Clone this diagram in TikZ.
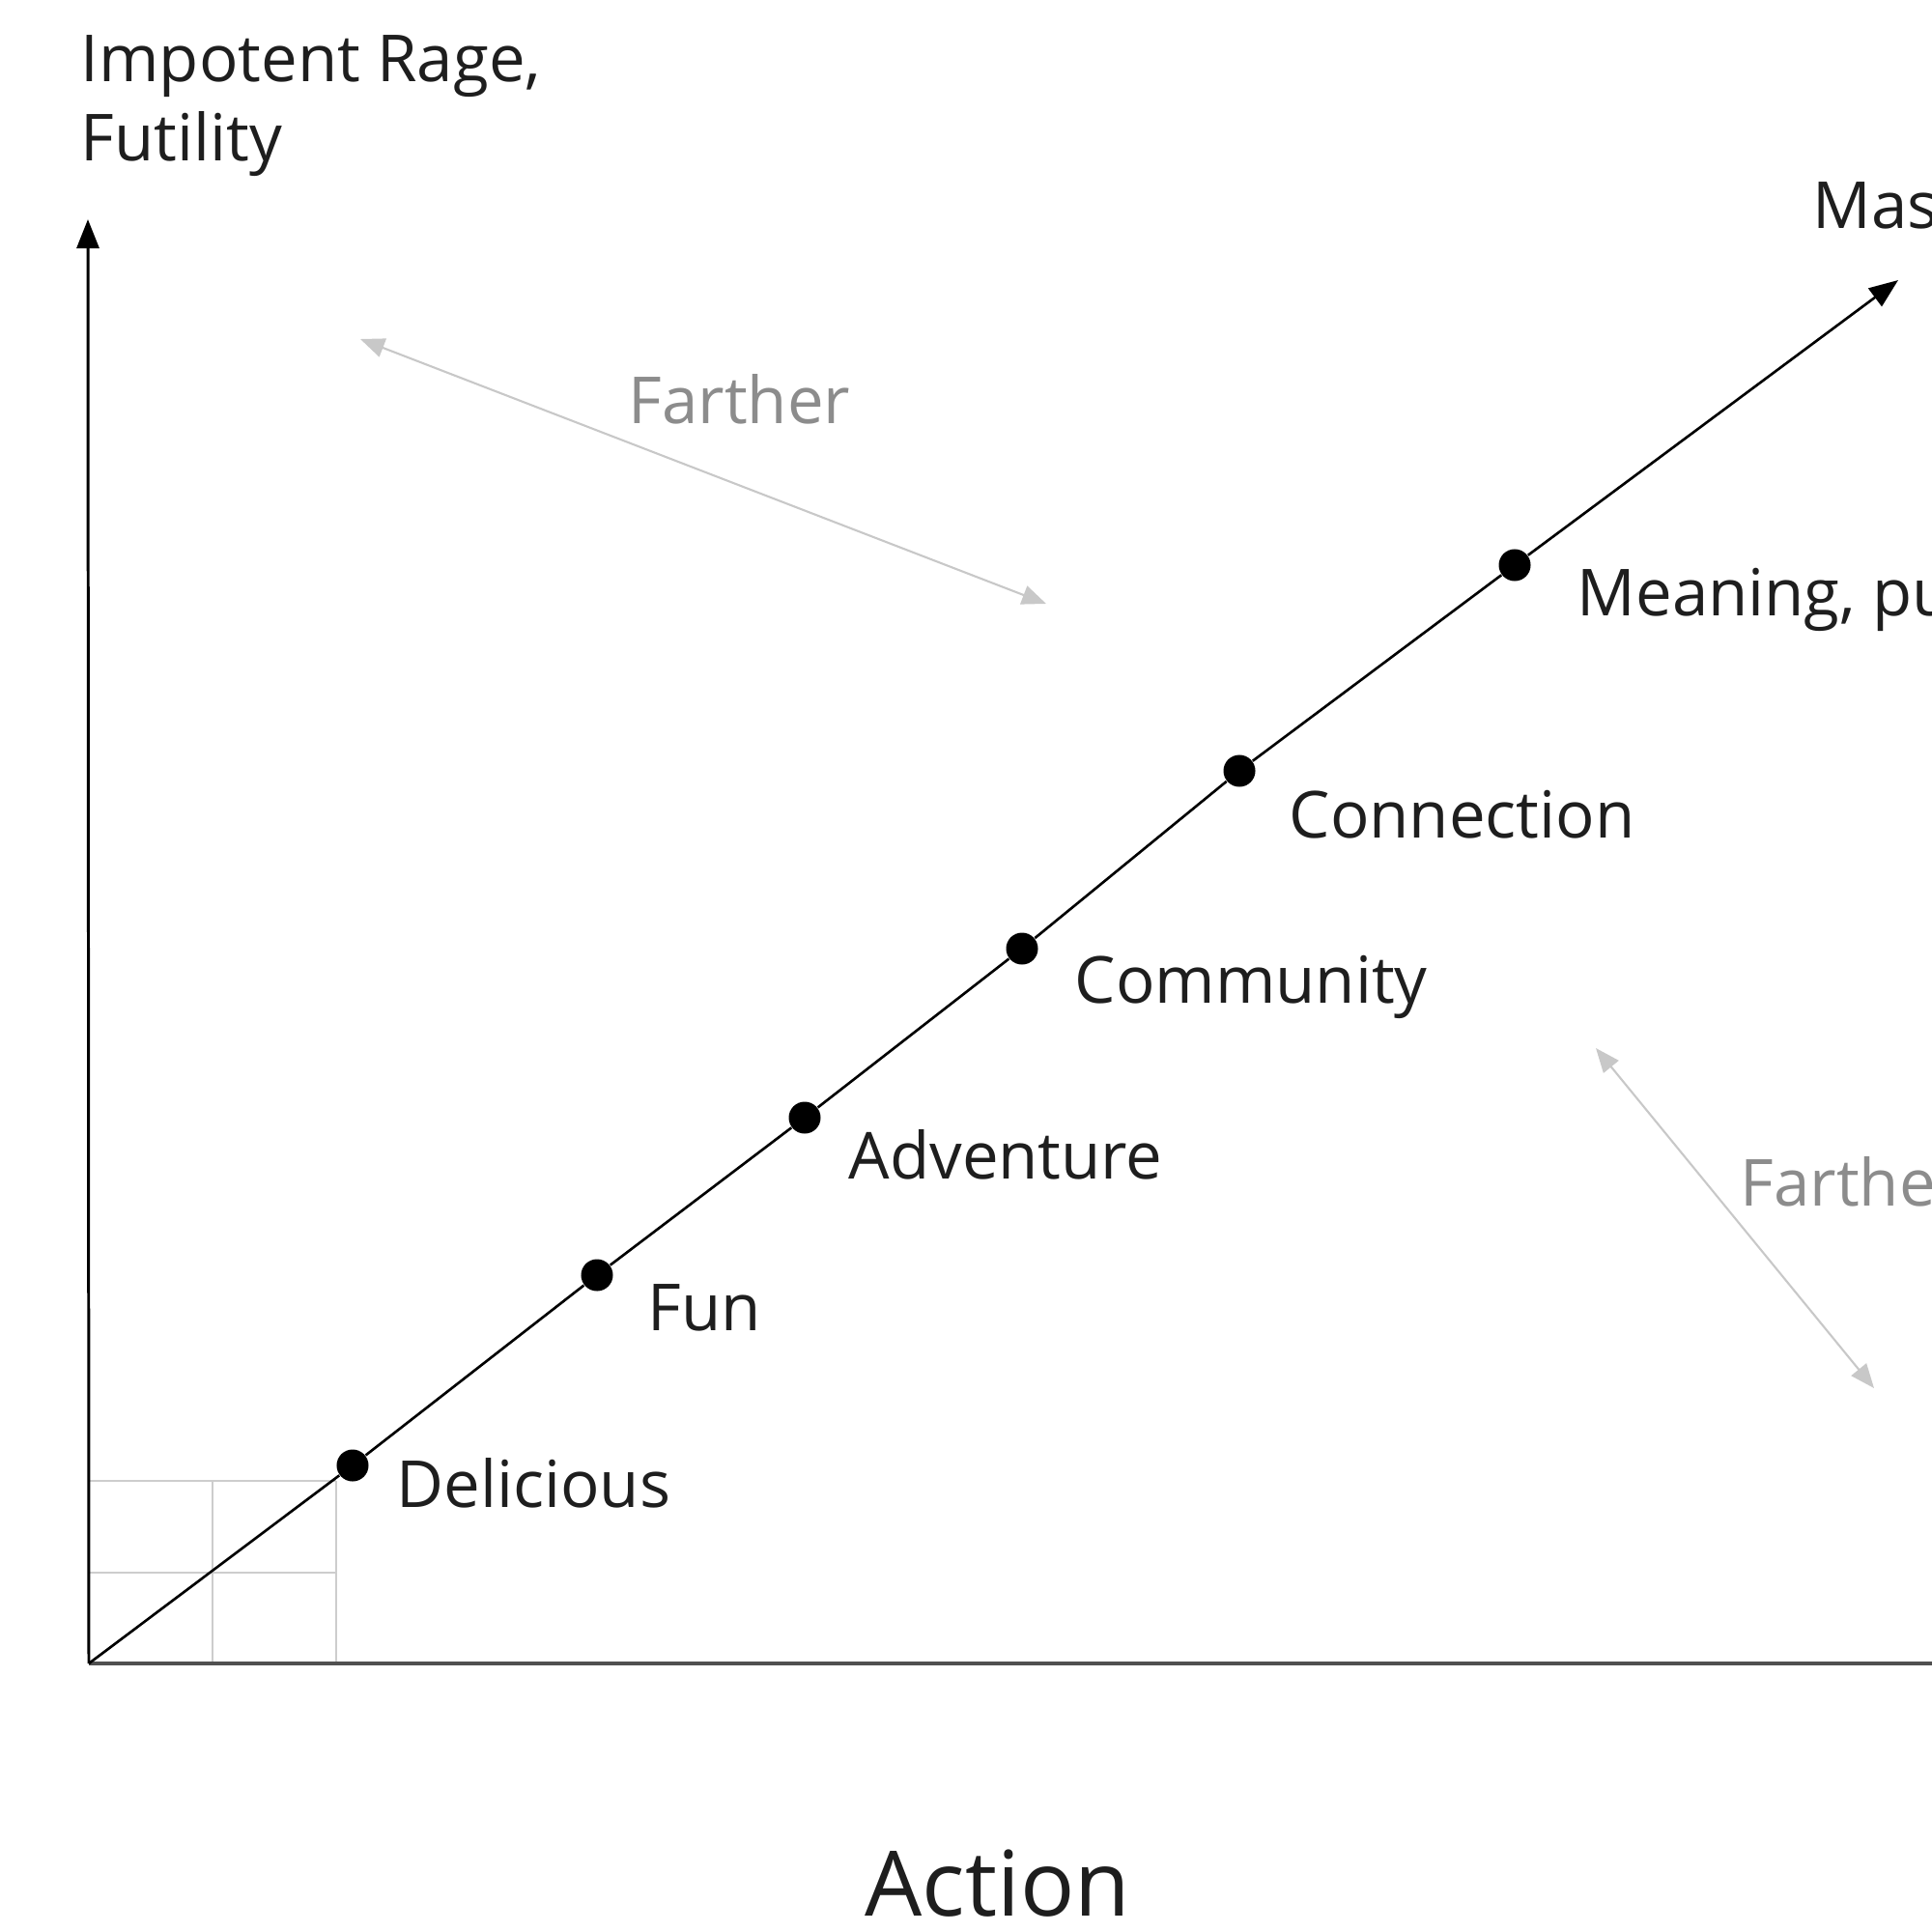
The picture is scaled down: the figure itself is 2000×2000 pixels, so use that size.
\documentclass[tikz,border=0pt]{standalone}
\usepackage{fontspec}
\setmainfont{Open Sans}
\usepackage{tikz}
\usetikzlibrary{arrows.meta}
\definecolor{txt}{RGB}{30,30,30}
\definecolor{fgray}{RGB}{140,140,140}
\definecolor{agray}{RGB}{200,200,200}
\definecolor{ggray}{RGB}{205,205,205}
\definecolor{xgray}{RGB}{80,80,80}
\tikzset{
  dt/.style={circle, fill=black, inner sep=0pt, minimum size=3.3mm},
  lb/.style={anchor=base west, inner sep=0pt, text=txt, font=\fontsize{19.1}{23.2}\selectfont},
  fr/.style={lb, text=fgray},
  ax/.style={-{Triangle[length=3mm,width=2.3mm]}, line width=0.85pt},
  ga/.style={{Triangle[length=2.5mm,width=2mm]}-{Triangle[length=2.5mm,width=2mm]}, agray, line width=0.6pt},
  gl/.style={ggray, line width=0.6pt},
  chart/.style={x=0.01cm, y=-0.01cm}
}
\begin{document}
\begin{tikzpicture}[chart]
  \useasboundingbox (0,0) rectangle (2000,2000);
  \clip (0,0) rectangle (2000,2000);
  \coordinate (O) at (92,1722);
  \coordinate (ytop) at (91,227);
  \coordinate (xend) at (2020,1722);
  \coordinate (dtop) at (1965,290);
  % small grid at the origin
  \foreach \y in {1533,1628} \draw[gl] (92,\y) -- (348,\y);
  \foreach \x in {220,348} \draw[gl] (\x,1533) -- (\x,1722);
  % axes
  \draw[xgray, line width=0.9pt] (O) -- (xend);
  \draw[ax] (O) -- (ytop);
  % steps
  \node[dt] (delicious) at (365,1517) {};
  \node[dt] (fun) at (618,1320) {};
  \node[dt] (adventure) at (833,1157) {};
  \node[dt] (community) at (1058,982) {};
  \node[dt] (connection) at (1283,798) {};
  \node[dt] (meaning) at (1568,585) {};
  \draw[line width=0.75pt] (O) -- (delicious) -- (fun) -- (adventure) -- (community) -- (connection) -- (meaning);
  \draw[ax, line width=0.75pt] (meaning) -- (dtop);
  \node[lb] (ldel) at (410,1560) {Delicious};
  \node[lb] (lfun) at (670,1377) {Fun};
  \node[lb] (ladv) at (878,1220) {Adventure};
  \node[lb] (lcom) at (1112,1038) {Community};
  \node[lb] (lcon) at (1334,867) {Connection};
  \node[lb] (lmea) at (1632,637) {Meaning, pu};
  \node[lb] (lmas) at (1876,237) {Mas};
  \node[lb] (lrage) at (83,85) {Impotent Rage,};
  \node[lb] (lfut) at (83,167) {Futility};
  \node[lb, font=\fontsize{26.6}{30}\selectfont] (lact) at (895,1983) {Action};
  % farther arrows
  \coordinate (f1a) at (373,351);
  \coordinate (f1b) at (1083,625);
  \coordinate (f2a) at (1652,1085);
  \coordinate (f2b) at (1940,1437);
  \draw[ga] (f1a) -- (f1b);
  \draw[ga] (f2a) -- (f2b);
  \node[fr] (far1) at (650,438) {Farther};
  \node[fr] (far2) at (1801,1248) {Farthe};
\end{tikzpicture}
\end{document}
